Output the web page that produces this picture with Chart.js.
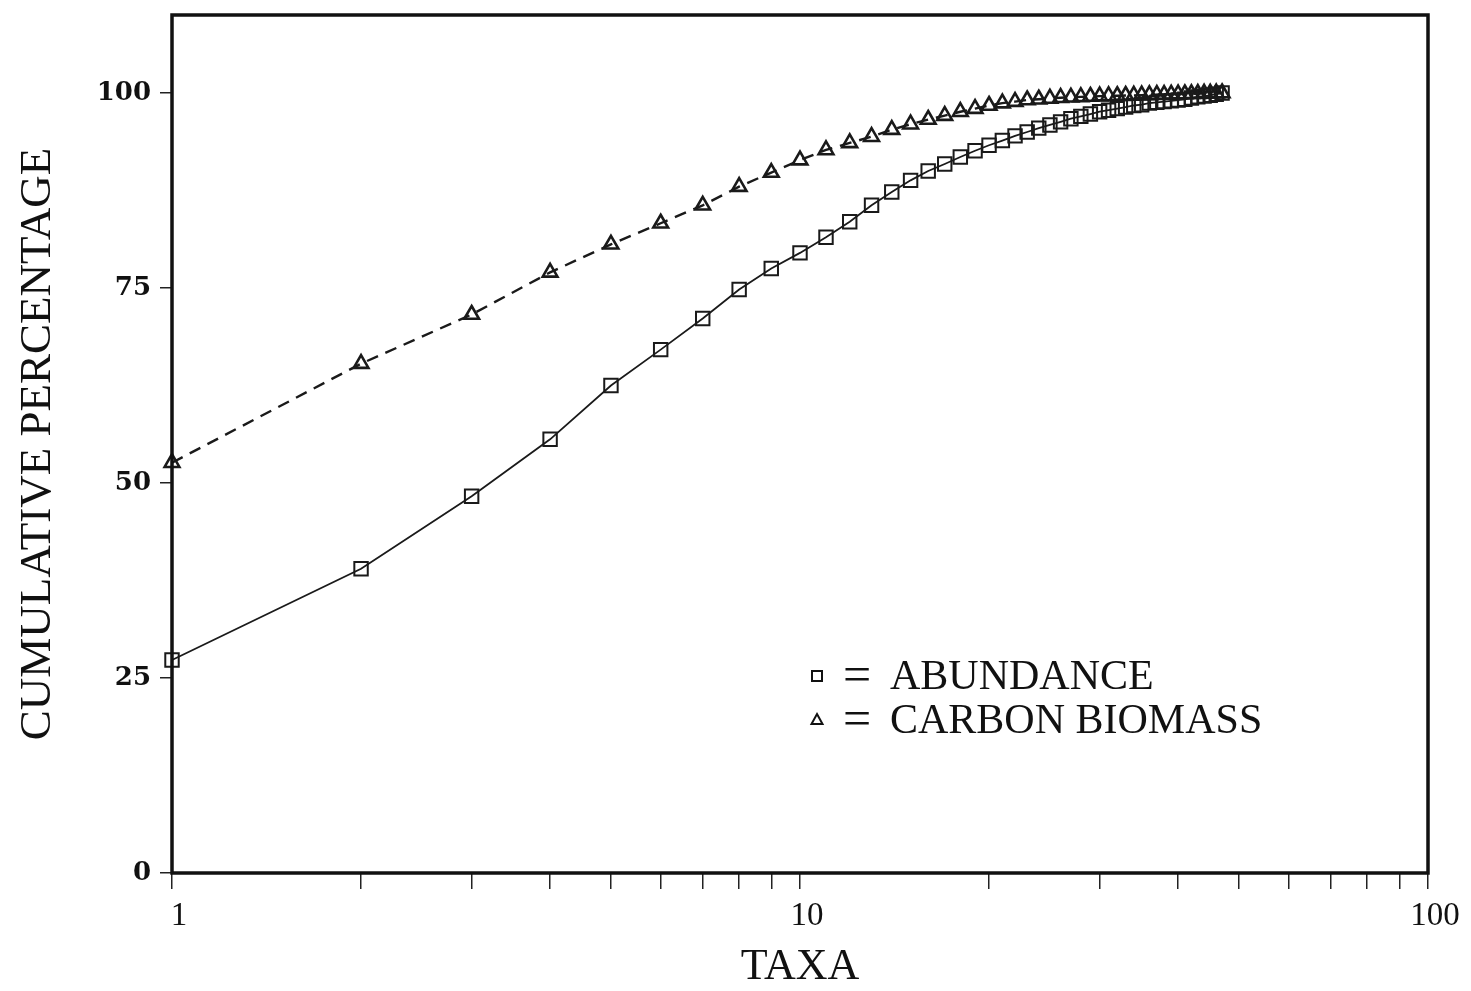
<!DOCTYPE html>
<html>
<head>
<meta charset="utf-8">
<script src="https://cdn.jsdelivr.net/npm/chart.js@4.4.1/dist/chart.umd.min.js"></script>
<style>
  html, body { margin: 0; padding: 0; background: #ffffff; }
  #wrap { width: 1471px; height: 991px; position: relative; }
</style>
</head>
<body>
<div id="wrap"><canvas id="cum"></canvas></div>
<script>
// Rank of each taxon (1 = most important)
const taxaRank = [1, 2, 3, 4, 5, 6, 7, 8, 9, 10, 11, 12, 13, 14, 15, 16, 17, 18, 19, 20,
  21, 22, 23, 24, 25, 26, 27, 28, 29, 30, 31, 32, 33, 34, 35, 36, 37, 38, 39, 40,
  41, 42, 43, 44, 45, 46, 47];

// Cumulative percentage of total abundance
const abundancePct = [27.3, 39.0, 48.3, 55.6, 62.5, 67.1, 71.1, 74.8, 77.5, 79.5,
  81.5, 83.5, 85.6, 87.3, 88.8, 90.0, 90.9, 91.8, 92.6, 93.3,
  93.9, 94.5, 95.0, 95.5, 95.9, 96.3, 96.7, 97.0, 97.3, 97.6,
  97.8, 98.0, 98.2, 98.4, 98.5, 98.7, 98.8, 98.9, 99.0, 99.1,
  99.2, 99.35, 99.5, 99.6, 99.7, 99.85, 100];

// Cumulative percentage of total carbon biomass
const biomassPct = [52.6, 65.3, 71.6, 77.0, 80.6, 83.3, 85.6, 88.0, 89.8, 91.4,
  92.7, 93.6, 94.4, 95.3, 96.0, 96.6, 97.1, 97.6, 98.0, 98.4,
  98.7, 98.9, 99.1, 99.2, 99.3, 99.4, 99.45, 99.5, 99.55, 99.6,
  99.62, 99.65, 99.68, 99.7, 99.72, 99.75, 99.78, 99.8, 99.82, 99.85,
  99.87, 99.9, 99.92, 99.94, 99.96, 99.98, 100];

const seriesLabels = ['ABUNDANCE', 'CARBON BIOMASS'];
const xTickValues = [1, 2, 3, 4, 5, 6, 7, 8, 9, 10, 20, 30, 40, 50, 60, 70, 80, 90, 100];
const xLabelledTicks = [1, 10, 100];
const yTickValues = [0, 25, 50, 75, 100];

const toPoints = (vals) => taxaRank.map((t, i) => ({ x: t, y: vals[i] }));

// Heavy box around the plotting area
const frameBox = {
  id: 'frameBox',
  afterDraw(chart) {
    const { ctx, chartArea: a } = chart;
    ctx.save();
    ctx.strokeStyle = '#111';
    ctx.lineWidth = 3.5;
    ctx.strokeRect(a.left, a.top, a.right - a.left, a.bottom - a.top);
    ctx.restore();
  }
};

// Symbol key written inside the plot
const symbolKey = {
  id: 'symbolKey',
  afterDraw(chart) {
    const { ctx, chartArea: a } = chart;
    const x0 = a.left + 645;
    const rows = [a.top + 661, a.top + 705];
    ctx.save();
    ctx.fillStyle = '#111';
    ctx.strokeStyle = '#111';
    ctx.textBaseline = 'middle';
    chart.data.datasets.forEach((ds, i) => {
      const y = rows[i];
      ctx.lineWidth = 2;
      ctx.beginPath();
      if (ds.pointStyle === 'rect') {
        ctx.rect(x0 - 5, y - 5, 10, 10);
      } else {
        ctx.moveTo(x0, y - 6);
        ctx.lineTo(x0 + 5.5, y + 4);
        ctx.lineTo(x0 - 5.5, y + 4);
        ctx.closePath();
      }
      ctx.stroke();
      ctx.font = '50px "Liberation Serif", serif';
      ctx.fillText('=', x0 + 26, y + 2);
      ctx.font = '42px "Liberation Serif", serif';
      ctx.fillText(ds.label, x0 + 73, y + 2);
    });
    ctx.restore();
  }
};

new Chart(document.getElementById('cum'), {
  type: 'line',
  data: {
    datasets: [
      {
        label: seriesLabels[0],
        data: toPoints(abundancePct),
        borderColor: '#1a1a1a',
        borderWidth: 1.8,
        pointStyle: 'rect',
        pointRadius: 9.5,
        pointBorderWidth: 2,
        pointBackgroundColor: 'rgba(0,0,0,0)',
        pointBorderColor: '#1a1a1a',
        tension: 0,
        clip: false
      },
      {
        label: seriesLabels[1],
        data: toPoints(biomassPct),
        borderColor: '#1a1a1a',
        borderWidth: 2.4,
        borderDash: [12, 8],
        pointStyle: 'triangle',
        pointRadius: 8.5,
        pointBorderWidth: 2.6,
        pointBackgroundColor: 'rgba(0,0,0,0)',
        pointBorderColor: '#1a1a1a',
        tension: 0,
        clip: false
      }
    ]
  },
  options: {
    responsive: true,
    maintainAspectRatio: false,
    animation: false,
    layout: { autoPadding: false, padding: { left: 0, top: 15, right: 43, bottom: 0 } },
    plugins: { legend: { display: false }, tooltip: { enabled: false } },
    scales: {
      x: {
        type: 'logarithmic',
        min: 1,
        max: 100,
        afterBuildTicks: (s) => { s.ticks = xTickValues.map(v => ({ value: v })); },
        afterFit: (s) => { s.height = 118; s.paddingLeft = 0; s.paddingRight = 0; },
        border: { display: false },
        grid: { drawOnChartArea: false, drawTicks: true, tickLength: 16, color: '#222', lineWidth: 1.5 },
        ticks: {
          autoSkip: false,
          maxRotation: 0,
          padding: 8,
          labelOffset: 7,
          color: '#111',
          font: { family: '"Liberation Serif", serif', size: 33 },
          callback: (v) => xLabelledTicks.includes(v) ? String(v) : ''
        },
        title: {
          display: true,
          text: 'TAXA',
          color: '#111',
          font: { family: '"Liberation Serif", serif', size: 44, lineHeight: 1.0 },
          padding: { top: 0, bottom: 2 }
        }
      },
      y: {
        min: 0,
        max: 110,
        afterBuildTicks: (s) => { s.ticks = yTickValues.map(v => ({ value: v })); },
        afterFit: (s) => { s.width = 172; s.paddingTop = 0; s.paddingBottom = 0; },
        border: { display: false },
        grid: { drawOnChartArea: false, drawTicks: true, tickLength: 12, color: '#222', lineWidth: 1.5 },
        ticks: {
          padding: 9,
          color: '#111',
          font: { family: '"DejaVu Serif", serif', size: 26, weight: 'bold' }
        },
        title: {
          display: true,
          text: 'CUMULATIVE PERCENTAGE',
          color: '#111',
          font: { family: '"Liberation Serif", serif', size: 45, lineHeight: 1.0 },
          padding: { top: 16, bottom: 0 }
        }
      }
    }
  },
  plugins: [frameBox, symbolKey]
});
</script>
</body>
</html>
